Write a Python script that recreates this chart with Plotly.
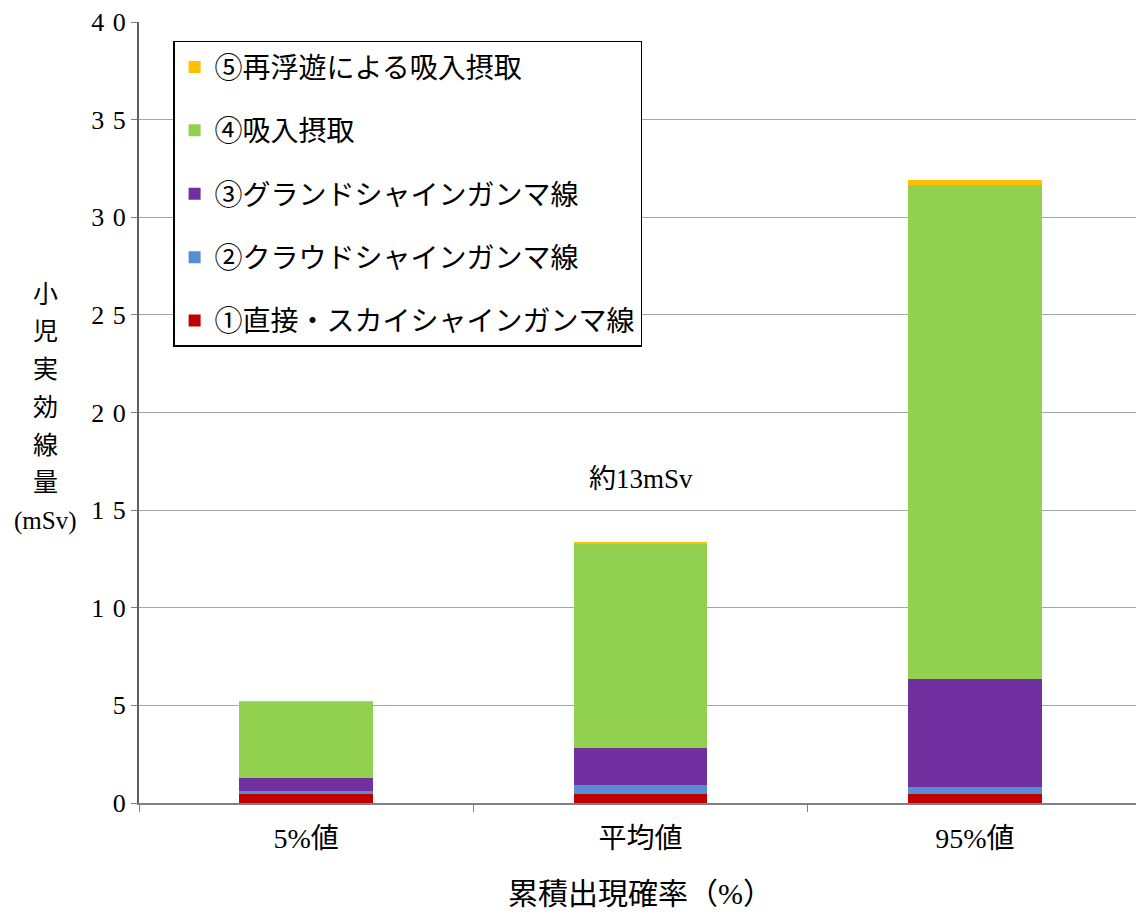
import plotly.graph_objects as go

categories = ["5%値", "平均値", "95%値"]
series_names = ["①直接・スカイシャインガンマ線", "②クラウドシャインガンマ線",
                "③グランドシャインガンマ線", "④吸入摂取", "⑤再浮遊による吸入摂取"]
series_colors = ["#C00000", "#558ED5", "#7030A0", "#92D050", "#FFC000"]
direct_sky = [0.51, 0.47, 0.48]
cloud = [0.10, 0.46, 0.36]
ground = [0.68, 1.87, 5.50]
inhalation = [3.91, 10.47, 25.29]
resuspension = [0.02, 0.10, 0.27]
series_values = [direct_sky, cloud, ground, inhalation, resuspension]
y_ticks = [0, 5, 10, 15, 20, 25, 30, 35, 40]
y_ticktext = ["\u2004".join(str(v)) for v in y_ticks]
y_title_lines = ["小", "児", "実", "効", "線", "量", "(mSv)"]

serif = "Liberation Serif, Noto Sans CJK JP"
# page body has an 8px margin: compensate
W, H = 1136, 909
L, R, T, B = 131, 2, 14, 114
plot_h = H - T - B

fig = go.Figure()
n = len(series_names)
for i, (name, col, vals) in enumerate(zip(series_names, series_colors, series_values)):
    fig.add_trace(go.Bar(x=categories, y=vals, name=name, marker_color=col,
                         marker_line_width=0, legendgroup=name, legendrank=n - i))

fig.add_annotation(x="平均値", y=16.6, text="約13mSv", showarrow=False,
                   font=dict(size=27, family=serif, color="#000"))
for k, line in enumerate(y_title_lines):
    fig.add_annotation(xref="paper", yref="paper", x=-94 / 1003, xanchor="center",
                       y=(509 - 37.8 * k) / plot_h, yanchor="middle",
                       text=line, showarrow=False,
                       font=dict(size=25, family=serif, color="#000"))

fig.update_layout(
    width=W, height=H, barmode="stack", bargap=0.6,
    plot_bgcolor="white", paper_bgcolor="white",
    margin=dict(l=L, r=R, t=T, b=B),
    font=dict(family=serif, size=22, color="#000"),
    showlegend=True,
    legend=dict(x=0.034, y=0.976, xanchor="left", yanchor="top",
                traceorder="grouped", tracegroupgap=24,
                bordercolor="#000", borderwidth=1.5, bgcolor="white",
                font=dict(size=28, family=serif), itemwidth=30),
    xaxis=dict(showline=True, linecolor="#808080", linewidth=1.5, automargin=False,
               ticks="outside", tickson="boundaries", ticklen=7, tickcolor="#808080",
               ticklabelstandoff=10,
               title=dict(text="累積出現確率（%）", font=dict(size=30), standoff=30),
               tickfont=dict(size=28)),
    yaxis=dict(range=[0, 40], tickvals=y_ticks, ticktext=y_ticktext, automargin=False,
               ticksuffix="\u2009", ticklabeloverflow="allow",
               showline=True, linecolor="#606060", linewidth=2,
               ticks="outside", ticklen=6, tickcolor="#808080",
               gridcolor="#A6A6A6", gridwidth=1, zeroline=False,
               tickfont=dict(size=26)),
)
fig.write_html("out.html")
